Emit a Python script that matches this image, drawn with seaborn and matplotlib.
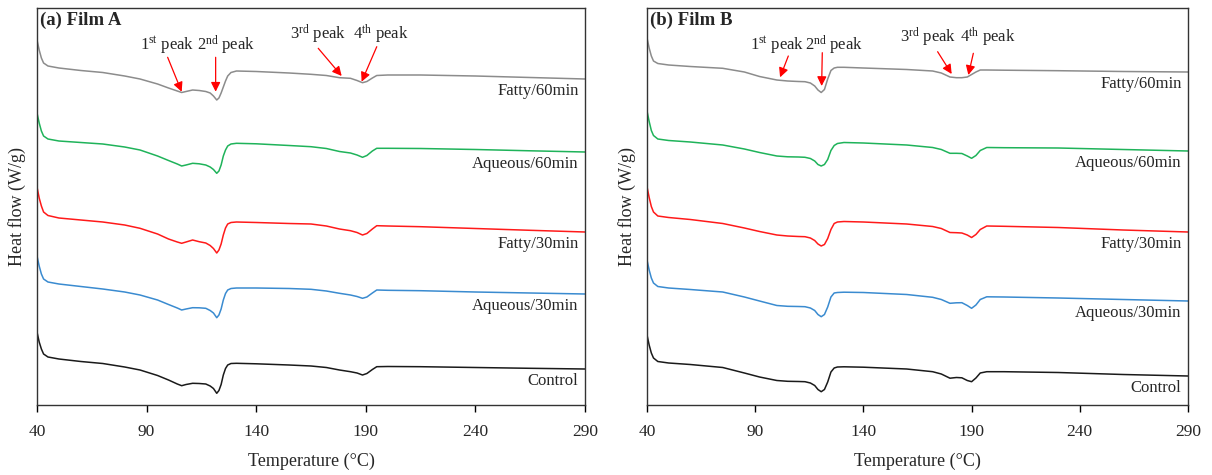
import seaborn as sns
import matplotlib
matplotlib.use("Agg")
import matplotlib.pyplot as plt
import numpy as np
import pandas as pd

# curve names, top to bottom
samples = ["Fatty/60min", "Aqueous/60min", "Fatty/30min", "Aqueous/30min", "Control"]
colors = ["#8c8c8c", "#1fb35a", "#ff1a1a", "#3a8bd0", "#1a1a1a"]

# ---- (a) Film A : heat flow signal (a.u., endo down) ----
temp_a = [40, 41, 42, 43, 45, 50, 60, 70, 80, 87, 95, 100, 104, 106, 108, 111, 114, 117, 119, 120.5,
          122, 123, 124, 125, 126, 127, 128.5, 131, 140, 155, 165, 172, 178, 183, 186, 188.5, 190.5,
          193, 195, 200, 215, 240, 265, 290]
fatty60_a = [28, 18, 10, 5, 2, 0, -2.5, -4.5, -8, -11, -16, -20, -23, -24.5, -23.5, -22, -22.5, -23.5, -25, -28,
             -32, -30, -25, -19, -13, -8, -4.5, -3, -3.5, -5, -6.3, -7.5, -9.7, -10.3, -12.5, -14.7, -13.5,
             -10, -7.5, -7, -7, -8, -9.5, -11]
aqueous60_a = [28, 18, 10, 5, 2, 0, -1.5, -3, -6, -9, -15, -19.5, -23, -25, -24, -22.3, -22.8, -24, -26, -28.5,
               -32.3, -30, -24, -15, -9, -5, -3, -2.3, -2.8, -4.5, -5.7, -7.5, -10.5, -12, -14, -16.3, -14.5,
               -10, -7.3, -7.3, -7.5, -8.5, -9.8, -11]
fatty30_a = [31, 20, 12, 6, 2.5, 0, -2, -4, -7, -10.3, -16, -21, -24, -25.3, -24, -22, -23.7, -25, -27.5, -30.5,
             -35, -32, -26, -17, -10, -6, -4.5, -4, -4.5, -5.5, -6, -8, -11, -12.7, -14.5, -17, -15.5,
             -11, -7.7, -8, -8.7, -10.5, -12.3, -14]
aqueous30_a = [28, 18, 10, 5, 2, 0, -2.5, -5, -8, -11, -16, -20.5, -24, -26, -25, -23.7, -23.8, -24.3, -26.5, -29,
               -33.7, -31, -25, -16, -9.5, -6, -4.5, -4, -4, -4.5, -5.3, -7, -9.3, -11, -12.5, -14.3, -13,
               -9, -6, -6.3, -6.7, -8, -9, -10]
control_a = [27, 17, 10, 5, 2, 0, -2.5, -4.5, -8, -11, -16.5, -21, -25, -26.7, -25.5, -24.3, -24.5, -25, -27, -29.5,
             -34.3, -31.5, -25.5, -16, -9.5, -6, -4.5, -4.3, -4.8, -6, -7, -8.5, -11, -12.7, -14, -16, -14.5,
             -10.5, -7.7, -7.5, -7.7, -8.5, -9.3, -10]
shift_a = [337, 264, 187, 121, 46]  # vertical shift for clarity

# ---- (b) Film B ----
temp_b = [40, 41, 42, 43, 45, 50, 60, 75, 85, 92, 100, 105, 110, 113, 115.5, 117.5, 119, 120.5, 122, 123.5,
          125, 126.5, 128, 131, 140, 160, 172, 176, 180, 183, 185.5, 188, 190, 192, 194, 197, 205, 230, 260, 290]
fatty60_b = [27, 17, 9, 4, 1.5, 0, -1.5, -3.3, -7, -11.5, -15, -16, -16.5, -16.7, -18, -21, -25, -27.5, -24.5, -14,
             -5.5, -3, -2.3, -2.3, -3, -4.5, -6, -8, -12, -12.7, -12.7, -12, -9.5, -7, -5, -5, -5.2, -5.7, -6.5, -7]
aqueous60_b = [29.5, 19, 10, 5, 1.5, 0, -1.5, -4.5, -8.5, -12, -15.5, -16.3, -16.5, -16.8, -18, -20.5, -24, -25.5, -24, -19,
               -10, -5, -3, -2, -2.5, -4.5, -7, -9, -12.8, -12.8, -13, -15.5, -17.8, -15, -10, -7, -7.2, -7.5, -9, -10.5]
fatty30_b = [30.8, 20, 11, 5.5, 1.5, 0, -2, -6, -10.5, -14, -17.5, -18.5, -19, -19.2, -20.5, -23, -26.5, -28.5, -27, -21,
             -12, -6, -4.5, -4, -4.5, -6.5, -9, -11, -15, -15.2, -15.5, -17.5, -20, -17, -12, -8.5, -8.8, -10, -12.5, -14.5]
aqueous30_b = [28, 18, 10, 5, 1.5, 0, -1.5, -4, -9, -13, -17.5, -18.3, -18.5, -18.7, -20, -22.5, -26.5, -28.7, -26.5, -19,
               -9, -5, -4.5, -4.2, -4.5, -6.5, -9.3, -11.5, -15.3, -14.8, -14.7, -17.5, -20.3, -17, -11.5, -8.8, -9, -10, -11.5, -13]
control_b = [28, 18, 10, 5, 1.5, 0, -1.5, -4.5, -10, -14, -17.5, -18.3, -18.5, -18.7, -20, -22.5, -26.5, -28.7, -26.5, -19,
             -9, -5, -4, -3.8, -4.2, -6, -8.7, -11, -15.2, -14.5, -14.8, -17.5, -18.7, -15, -10, -8.7, -8.7, -9.5, -11.5, -13]
shift_b = [340, 264.5, 187.5, 117, 42]

peak_labels = [r"1$^{\rm st}$ peak", r"2$^{\rm nd}$ peak", r"3$^{\rm rd}$ peak", r"4$^{\rm th}$ peak"]
# label anchor (T, y) and arrow tail -> tip
label_pos_a = [(99.3, 355), (126.2, 355), (168.2, 365.7), (196.9, 365.7)]
arrows_a = [((99.6, 347.7), (106, 313.3)), ((121.5, 347.7), (121.5, 313.3)),
            ((168.3, 356.7), (179, 329)), ((195, 358.3), (188.1, 323.3))]
label_pos_b = [(100.1, 355), (126.4, 355), (169.8, 362.3), (197.6, 362.3)]
arrows_b = [((105.3, 349), (101.5, 327.7)), ((121, 352.3), (120.7, 319)),
            ((174.3, 353.3), (180.8, 331)), ((190.8, 351.7), (188.5, 330))]

sns.set_theme(style="white")
plt.rcParams["font.family"] = ["Liberation Serif", "DejaVu Serif"]
plt.rcParams["mathtext.fontset"] = "custom"
plt.rcParams["mathtext.rm"] = "Liberation Serif"
plt.rcParams["mathtext.it"] = "Liberation Serif:italic"
plt.rcParams["mathtext.bf"] = "Liberation Serif:bold"

fig = plt.figure(figsize=(12.12, 4.75), dpi=100)
ax_a = fig.add_axes([37 / 1212, 70 / 475, 548 / 1212, 397 / 475])
ax_b = fig.add_axes([647 / 1212, 70 / 475, 541 / 1212, 397 / 475])


def panel(ax, temp, curves, shifts, title, label_pos, arrows, name_x):
    rows = []
    for name, sig, sh in zip(samples, curves, shifts):
        for t, v in zip(temp, sig):
            rows.append((t, v + sh, name))
    df = pd.DataFrame(rows, columns=["T", "hf", "sample"])
    sns.lineplot(data=df, x="T", y="hf", hue="sample", hue_order=samples, palette=colors,
                 linewidth=1.1, legend=False, ax=ax, estimator=None, sort=False)
    for name, sig, sh in zip(samples, curves, shifts):
        ax.text(name_x, sig[-1] + sh - 4, name, ha="right", va="top", fontsize=12)
    for lab, (lx, ly) in zip(peak_labels, label_pos):
        ax.text(lx, ly, lab, ha="center", va="baseline", fontsize=12)
    for tail, tip in arrows:
        ax.annotate("", xy=tip, xytext=tail,
                    arrowprops=dict(arrowstyle="-|>", color="red", lw=0.9, mutation_scale=14,
                                    shrinkA=0, shrinkB=0))
    ax.text(0.006, 0.958, title, transform=ax.transAxes, fontsize=13.5, fontweight="bold",
            ha="left", va="baseline")
    ax.set_xlim(40, 290)
    ax.set_ylim(0, 397)
    ax.set_xticks(np.arange(40, 291, 50))
    ax.set_yticks([])
    ax.tick_params(axis="x", direction="out", length=5, width=1, pad=9, labelsize=12.5,
                   bottom=True, color="black")
    ax.set_xlabel("Temperature (\u00b0C)", fontsize=13, labelpad=9)
    ax.set_ylabel("Heat flow (W/g)", fontsize=13)
    ax.yaxis.set_label_coords(-0.02, 0.5)
    for s in ax.spines.values():
        s.set_color("#333333")
        s.set_linewidth(1.0)


panel(ax_a, temp_a, [fatty60_a, aqueous60_a, fatty30_a, aqueous30_a, control_a], shift_a,
      "(a) Film A", label_pos_a, arrows_a, 287)
panel(ax_b, temp_b, [fatty60_b, aqueous60_b, fatty30_b, aqueous30_b, control_b], shift_b,
      "(b) Film B", label_pos_b, arrows_b, 287)

fig.savefig("out.png", dpi=100)
